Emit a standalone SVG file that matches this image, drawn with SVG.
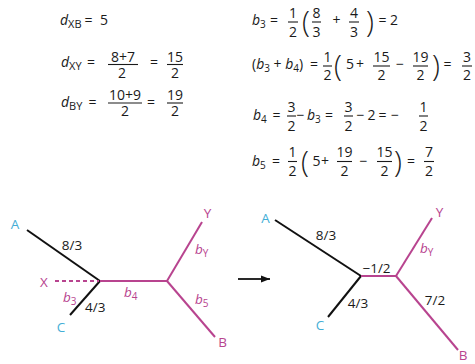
<svg xmlns="http://www.w3.org/2000/svg" width="475" height="364" viewBox="0 0 475 364">
<defs>
<style>
text{font-family:"Open Sans","Noto Sans","Liberation Sans",sans-serif;font-size:14px;fill:#1a1a1a}
.m{text-anchor:middle}
.i{font-style:italic}
.s{font-size:10px}
.s11{font-size:11px}
.bar{stroke:#1a1a1a;stroke-width:1.1}
.par{font-size:29px;font-weight:300}
.lbl{font-size:13.5px}
.cy{fill:#43aed6}
.mg{fill:#b8448f}
.blk{stroke:#111;stroke-width:2;fill:none}
.pk{stroke:#b8448f;stroke-width:2;fill:none}
</style>
<marker id="ah" markerWidth="10" markerHeight="8" refX="9" refY="4" orient="auto" markerUnits="userSpaceOnUse">
<path d="M0,0.5 L9,4 L0,7.5 Z" fill="#111"/>
</marker>
</defs>
<rect width="475" height="364" fill="#fff"/>

<g id="equations-left">
<text x="60" y="25"><tspan class="i">d</tspan><tspan class="s11" dy="3">XB</tspan></text>
<text class="m" x="88.5" y="25">=</text>
<text class="m" x="104" y="25">5</text>

<text x="61" y="67"><tspan class="i">d</tspan><tspan class="s11" dy="3">XY</tspan></text>
<text class="m" x="91" y="67">=</text>
<text class="m" x="123" y="62">8+7</text>
<line class="bar" x1="108" y1="64.5" x2="138" y2="64.5"/>
<text class="m" x="122" y="77.5">2</text>
<text class="m" x="154" y="67">=</text>
<text class="m" x="175" y="62">15</text>
<line class="bar" x1="167" y1="64.5" x2="183" y2="64.5"/>
<text class="m" x="175" y="77.5">2</text>

<text x="61" y="107"><tspan class="i">d</tspan><tspan class="s11" dy="3">BY</tspan></text>
<text class="m" x="92.5" y="107">=</text>
<text class="m" x="125" y="100">10+9</text>
<line class="bar" x1="108" y1="103" x2="142" y2="103"/>
<text class="m" x="125" y="115.5">2</text>
<text class="m" x="151" y="107">=</text>
<text class="m" x="175" y="100">19</text>
<line class="bar" x1="167" y1="103" x2="183" y2="103"/>
<text class="m" x="175" y="115.5">2</text>
</g>

<g id="equations-right">
<!-- line 1 -->
<text x="252" y="25"><tspan class="i">b</tspan><tspan class="s" dy="3">3</tspan></text>
<text class="m" x="274" y="25">=</text>
<text class="m" x="293" y="18">1</text>
<line class="bar" x1="288" y1="22" x2="298" y2="22"/>
<text class="m" x="293" y="37">2</text>
<text class="par" x="302" y="32">(</text>
<text class="m" x="316.5" y="18">8</text>
<line class="bar" x1="312" y1="22" x2="321" y2="22"/>
<text class="m" x="316.5" y="37">3</text>
<text class="m" x="336.5" y="25">+</text>
<text class="m" x="354" y="18">4</text>
<line class="bar" x1="349" y1="22" x2="359" y2="22"/>
<text class="m" x="354" y="37">3</text>
<text class="par" x="366" y="32">)</text>
<text class="m" x="382.5" y="25">=</text>
<text class="m" x="394" y="25">2</text>

<!-- line 2 -->
<text x="252" y="69">(<tspan class="i">b</tspan><tspan class="s" dy="3">3</tspan><tspan dy="-3"> + </tspan><tspan class="i">b</tspan><tspan class="s" dy="3">4</tspan><tspan dy="-3">)</tspan></text>
<text class="m" x="314" y="69">=</text>
<text class="m" x="327.5" y="62">1</text>
<line class="bar" x1="323" y1="66" x2="332" y2="66"/>
<text class="m" x="327.5" y="80">2</text>
<text class="par" x="334" y="76">(</text>
<text class="m" x="350" y="69">5</text>
<text class="m" x="360" y="69">+</text>
<text class="m" x="381.5" y="62">15</text>
<line class="bar" x1="373" y1="66" x2="390" y2="66"/>
<text class="m" x="381.5" y="80">2</text>
<text class="m" x="400" y="69">−</text>
<text class="m" x="420.5" y="62">19</text>
<line class="bar" x1="413" y1="66" x2="428" y2="66"/>
<text class="m" x="420.5" y="80">2</text>
<text class="par" x="432" y="76">)</text>
<text class="m" x="447.5" y="69">=</text>
<text class="m" x="467" y="62">3</text>
<line class="bar" x1="462" y1="66" x2="472" y2="66"/>
<text class="m" x="467" y="80">2</text>

<!-- line 3 -->
<text x="253" y="120"><tspan class="i">b</tspan><tspan class="s" dy="3">4</tspan></text>
<text class="m" x="276.5" y="120">=</text>
<text class="m" x="291.5" y="112">3</text>
<line class="bar" x1="287" y1="116" x2="296" y2="116"/>
<text class="m" x="291.5" y="130.5">2</text>
<text class="m" x="300.5" y="120">−</text>
<text x="307" y="120"><tspan class="i">b</tspan><tspan class="s" dy="3">3</tspan></text>
<text class="m" x="329" y="120">=</text>
<text class="m" x="348.5" y="112">3</text>
<line class="bar" x1="344" y1="116" x2="353" y2="116"/>
<text class="m" x="348.5" y="130.5">2</text>
<text class="m" x="360.5" y="120">−</text>
<text class="m" x="371.5" y="120">2</text>
<text class="m" x="382.5" y="120">=</text>
<text class="m" x="395" y="120">−</text>
<text class="m" x="423.5" y="112">1</text>
<line class="bar" x1="419" y1="116" x2="428" y2="116"/>
<text class="m" x="423.5" y="130.5">2</text>

<!-- line 4 -->
<text x="252" y="166"><tspan class="i">b</tspan><tspan class="s" dy="3">5</tspan></text>
<text class="m" x="276" y="166">=</text>
<text class="m" x="292.5" y="157">1</text>
<line class="bar" x1="288" y1="161.5" x2="297" y2="161.5"/>
<text class="m" x="292.5" y="175.5">2</text>
<text class="par" x="301" y="172">(</text>
<text class="m" x="316.5" y="166">5</text>
<text class="m" x="325" y="166">+</text>
<text class="m" x="344.5" y="157">19</text>
<line class="bar" x1="337" y1="161.5" x2="352" y2="161.5"/>
<text class="m" x="344.5" y="175.5">2</text>
<text class="m" x="363.5" y="166">−</text>
<text class="m" x="384.5" y="157">15</text>
<line class="bar" x1="377" y1="161.5" x2="392" y2="161.5"/>
<text class="m" x="384.5" y="175.5">2</text>
<text class="par" x="394" y="172">)</text>
<text class="m" x="411" y="166">=</text>
<text class="m" x="429" y="157">7</text>
<line class="bar" x1="424" y1="161.5" x2="434" y2="161.5"/>
<text class="m" x="429" y="175.5">2</text>
</g>

<g id="connectors">
<!-- left tree -->
<line class="blk" x1="27" y1="230" x2="100" y2="281"/>
<line class="blk" x1="100" y1="281" x2="70" y2="315"/>
<line class="pk" x1="55" y1="281" x2="99" y2="281" stroke-dasharray="4,3"/>
<line class="pk" x1="100" y1="281" x2="167" y2="281"/>
<line class="pk" x1="167" y1="281" x2="202" y2="222"/>
<line class="pk" x1="167" y1="281" x2="215" y2="337"/>
<!-- arrow -->
<line x1="238" y1="279" x2="270" y2="279" stroke="#111" stroke-width="1.8" marker-end="url(#ah)"/>
<!-- right tree -->
<line class="blk" x1="275" y1="220" x2="361" y2="276"/>
<line class="blk" x1="361" y1="276" x2="328" y2="317"/>
<line class="pk" x1="361" y1="276" x2="396" y2="276"/>
<line class="pk" x1="396" y1="276" x2="432" y2="218"/>
<line class="pk" x1="396" y1="276" x2="458" y2="350"/>
</g>

<g id="tree-left">
<text class="lbl cy m" x="15" y="229">A</text>
<text class="lbl mg m" x="44" y="287">X</text>
<text class="lbl cy m" x="61" y="332">C</text>
<text class="lbl mg m" x="207.5" y="218">Y</text>
<text class="lbl mg m" x="222.5" y="347">B</text>
<text class="lbl m" x="72" y="250">8/3</text>
<text class="lbl" x="85" y="312">4/3</text>
<text class="lbl mg" x="63" y="302"><tspan class="i">b</tspan><tspan class="s" dy="3">3</tspan></text>
<text class="lbl mg" x="124" y="297"><tspan class="i">b</tspan><tspan class="s" dy="3">4</tspan></text>
<text class="lbl mg" x="195" y="304"><tspan class="i">b</tspan><tspan class="s" dy="3">5</tspan></text>
<text class="lbl mg" x="195" y="254"><tspan class="i">b</tspan><tspan class="s" dy="3">Y</tspan></text>
</g>

<g id="tree-right">
<text class="lbl cy m" x="265.5" y="223">A</text>
<text class="lbl cy m" x="320" y="330">C</text>
<text class="lbl mg m" x="439.5" y="217">Y</text>
<text class="lbl mg m" x="463" y="360">B</text>
<text class="lbl m" x="326" y="240">8/3</text>
<text class="lbl m" x="358" y="308">4/3</text>
<text class="lbl m" x="376.5" y="273">−1/2</text>
<text class="lbl m" x="435" y="305">7/2</text>
<text class="lbl mg" x="420" y="253"><tspan class="i">b</tspan><tspan class="s" dy="3">Y</tspan></text>
</g>
</svg>
